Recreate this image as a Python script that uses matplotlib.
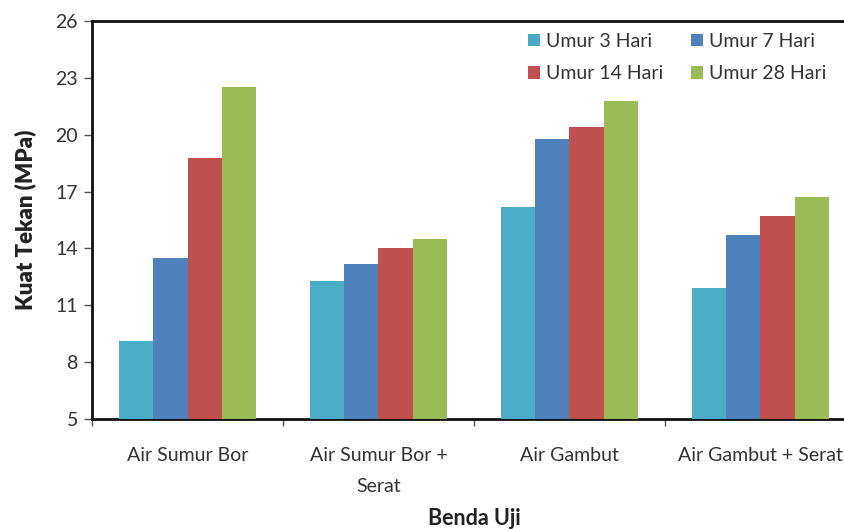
import numpy as np
import matplotlib
matplotlib.use("Agg")
import matplotlib.pyplot as plt

categories = ["Air Sumur Bor", "Air Sumur Bor +\nSerat", "Air Gambut", "Air Gambut + Serat"]
series_names = ["Umur 3 Hari", "Umur 7 Hari", "Umur 14 Hari", "Umur 28 Hari"]
umur_3 = [9.1, 12.3, 16.2, 11.9]
umur_7 = [13.5, 13.2, 19.8, 14.7]
umur_14 = [18.8, 14.0, 20.4, 15.7]
umur_28 = [22.5, 14.5, 21.8, 16.7]
y_ticks = [5, 8, 11, 14, 17, 20, 23, 26]

colors = ["#4BACC6", "#4F81BD", "#C0504D", "#9BBB59"]

plt.rcParams["font.family"] = ["Lato", "DejaVu Sans"]

fig = plt.figure(figsize=(8.45, 5.29), dpi=100)
ax = fig.add_axes([0.1089, 0.208, 0.904, 0.752])

x = np.arange(len(categories))
width = 0.18
all_series = [umur_3, umur_7, umur_14, umur_28]
bars = []
for i, (vals, name) in enumerate(zip(all_series, series_names)):
    b = ax.bar(x + (i - 1.5) * width, vals, width=width, color=colors[i], label=name, zorder=3)
    bars.append(b)

ax.set_ylim(5, 26)
ax.set_yticks(y_ticks)
ax.set_xlim(-0.5, len(categories) - 0.5)
ax.set_xticks(x)
ax.set_xticklabels(categories, fontsize=14, color="#333333", linespacing=2.0)
ax.set_xticks(np.arange(len(categories) + 1) - 0.5, minor=True)
ax.tick_params(axis="x", which="major", length=0, pad=20)
ax.tick_params(axis="x", which="minor", length=5, width=1, color="#555555", direction="out")
ax.tick_params(axis="y", length=6, width=1, color="#555555", labelsize=14, labelcolor="#333333", pad=4)

for s in ax.spines.values():
    s.set_linewidth(2)
    s.set_color("#111111")

ax.set_ylabel("Kuat Tekan (MPa)", fontsize=16, fontweight="heavy", color="#222222")
ax.yaxis.set_label_coords(-0.073, 0.5)
ax.set_xlabel("Benda Uji", fontsize=15.5, fontweight="bold", color="#222222")
ax.xaxis.set_label_coords(0.5, -0.225)

# row-wise order: 3, 7 on first row; 14, 28 on second
order = [0, 2, 1, 3]
ax.legend([bars[k] for k in order], [series_names[k] for k in order],
          ncol=2, loc="upper left", bbox_to_anchor=(0.555, 1.0), borderaxespad=0.2,
          frameon=False, fontsize=14, handlelength=0.65, handleheight=0.65,
          handletextpad=0.3, columnspacing=1.4, labelspacing=0.8, labelcolor="#333333")

fig.savefig("out.png", dpi=100)
